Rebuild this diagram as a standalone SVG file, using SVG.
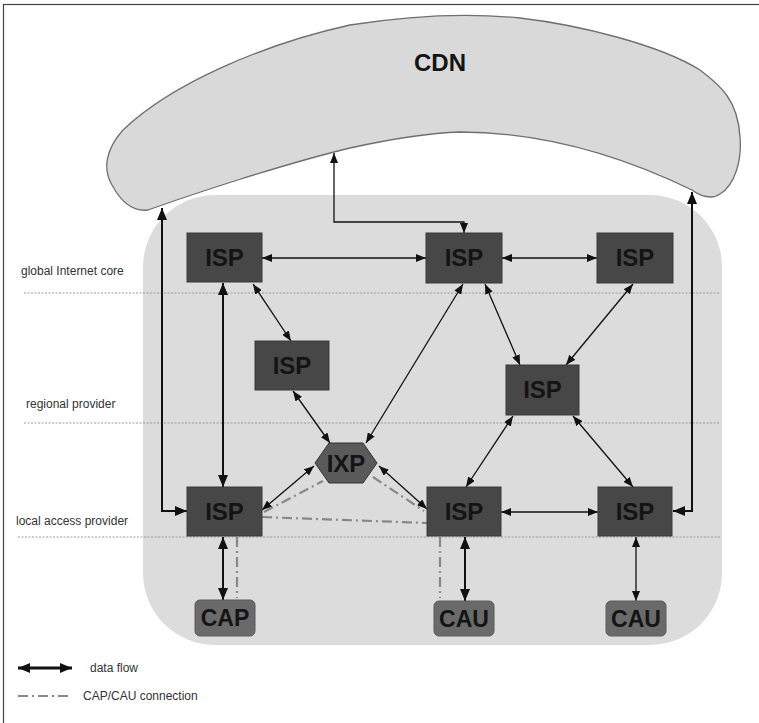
<svg xmlns="http://www.w3.org/2000/svg" width="759" height="723" viewBox="0 0 759 723">
<style>
.isp{fill:#474747;stroke:#3a3a3a;stroke-width:1}
.cap{fill:#6a6a6a;stroke:#5a5a5a;stroke-width:1}
.nt{font-family:"Liberation Sans",Arial,sans-serif;font-weight:bold;font-size:24px;fill:#141414;text-anchor:middle}
.ct{font-family:"Liberation Sans",Arial,sans-serif;font-weight:bold;font-size:23px;fill:#141414;text-anchor:middle}
.lbl{font-family:"Liberation Sans",Arial,sans-serif;font-size:12px;fill:#333}
.layer{stroke:#9a9a9a;stroke-width:1;stroke-dasharray:2,1.5;fill:none}
.df{stroke:#111;stroke-width:1.3;fill:none;marker-start:url(#ah);marker-end:url(#ah)}
.dfb{stroke:#111;stroke-width:2;fill:none;marker-start:url(#ahb);marker-end:url(#ahb)}
.cc{stroke:#888;stroke-width:2.2;fill:none;stroke-dasharray:10,4,2,4}
</style>
<defs>
<marker id="ah" markerUnits="userSpaceOnUse" viewBox="0 0 10 8" markerWidth="10" markerHeight="8" refX="10" refY="4" orient="auto-start-reverse">
<path d="M0,0 L10,4 L0,8 Z" fill="#111"/>
</marker>
<marker id="ahb" markerUnits="userSpaceOnUse" viewBox="0 0 12 10" markerWidth="12" markerHeight="10" refX="12" refY="5" orient="auto-start-reverse">
<path d="M0,0 L12,5 L0,10 Z" fill="#111"/>
</marker>
</defs>
<rect x="0" y="0" width="759" height="723" fill="#fff"/>
<rect x="3.5" y="4.5" width="760" height="725" fill="none" stroke="#444" stroke-width="1.2"/>

<g id="provider-area">
<rect x="143" y="195" width="579" height="450" rx="72" ry="72" fill="#dcdcdc"/>
</g>

<g id="layers">
<line class="layer" x1="24" y1="293" x2="720" y2="293"/>
<line class="layer" x1="24" y1="423" x2="720" y2="423"/>
<line class="layer" x1="18" y1="537" x2="720" y2="537"/>
<text class="lbl" x="21" y="275">global Internet core</text>
<text class="lbl" x="26" y="408">regional provider</text>
<text class="lbl" x="16" y="525">local access provider</text>
</g>

<g id="cdn">
<path d="M148,210 C190,195 280,165 350,148 C400,137 430,133 460,132 C540,132 620,155 692,190 C700,196 712,200 720,194 C735,185 742,160 740,137 C738,100 720,85 700,70 C660,45 580,25 520,18 C480,14 420,14 350,25 C260,45 170,85 123,130 C105,150 103,170 112,185 C120,200 132,212 148,210 Z" fill="#d9d9d9" stroke="#6f6f6f" stroke-width="1.3"/>
<text class="nt" x="440" y="71">CDN</text>
</g>

<g id="connectors">
<path class="dfb" d="M162,208 V511 H187"/>
<path class="df" d="M334,153 V222 H464 V233"/>
<path class="dfb" d="M692,192 V511 H673"/>
<line class="df" x1="262" y1="258" x2="426" y2="258"/>
<line class="df" x1="502" y1="258" x2="597" y2="258"/>
<line class="dfb" x1="223" y1="283" x2="223" y2="487"/>
<line class="df" x1="253" y1="284" x2="291" y2="341"/>
<line class="df" x1="293" y1="391" x2="330" y2="443"/>
<line class="df" x1="463" y1="284" x2="366" y2="443"/>
<line class="df" x1="485" y1="284" x2="520" y2="365"/>
<line class="df" x1="633" y1="284" x2="566" y2="365"/>
<line class="df" x1="513" y1="416" x2="466" y2="487"/>
<line class="df" x1="573" y1="416" x2="633" y2="487"/>
<line class="df" x1="314" y1="466" x2="262" y2="510"/>
<line class="df" x1="379" y1="466" x2="427" y2="509"/>
<line class="df" x1="501" y1="512" x2="598" y2="512"/>
<line class="dfb" x1="223" y1="537" x2="223" y2="600"/>
<line class="dfb" x1="465" y1="537" x2="465" y2="601"/>
<line class="df" x1="636" y1="537" x2="636" y2="601"/>
<line class="cc" x1="264" y1="512" x2="323" y2="481"/>
<line class="cc" x1="373" y1="477" x2="424" y2="511"/>
<line class="cc" x1="262" y1="517" x2="427" y2="523"/>
<line class="cc" x1="237" y1="537" x2="237" y2="598"/>
<line class="cc" x1="440" y1="537" x2="440" y2="598"/>
</g>

<g id="isp-global-left"><rect class="isp" x="187" y="233" width="75" height="49"/><text class="nt" x="224.5" y="266">ISP</text></g>
<g id="isp-global-mid"><rect class="isp" x="426" y="233" width="76" height="50"/><text class="nt" x="464" y="266">ISP</text></g>
<g id="isp-global-right"><rect class="isp" x="597" y="233" width="76" height="50"/><text class="nt" x="635" y="266">ISP</text></g>
<g id="isp-regional-left"><rect class="isp" x="255" y="341" width="74" height="49"/><text class="nt" x="292" y="374">ISP</text></g>
<g id="isp-regional-right"><rect class="isp" x="506" y="365" width="73" height="50"/><text class="nt" x="542.5" y="398">ISP</text></g>
<g id="ixp"><polygon points="315,463 329,443 363,443 377,463 363,483 329,483" fill="#5a5a5a" stroke="#333" stroke-width="1"/><text class="nt" x="346" y="472">IXP</text></g>
<g id="isp-local-left"><rect class="isp" x="187" y="487" width="75" height="49"/><text class="nt" x="224.5" y="520">ISP</text></g>
<g id="isp-local-mid"><rect class="isp" x="427" y="487" width="74" height="49"/><text class="nt" x="464" y="520">ISP</text></g>
<g id="isp-local-right"><rect class="isp" x="598" y="487" width="74" height="49"/><text class="nt" x="635" y="520">ISP</text></g>
<g id="cap"><rect class="cap" x="195" y="600" width="60" height="36" rx="5"/><text class="ct" x="225" y="626">CAP</text></g>
<g id="cau-mid"><rect class="cap" x="434" y="601" width="60" height="35" rx="5"/><text class="ct" x="464" y="627">CAU</text></g>
<g id="cau-right"><rect class="cap" x="606" y="601" width="60" height="35" rx="5"/><text class="ct" x="636" y="627">CAU</text></g>

<g id="legend">
<line x1="18" y1="668" x2="72" y2="668" stroke="#111" stroke-width="3" marker-start="url(#ahb)" marker-end="url(#ahb)"/>
<text class="lbl" x="90" y="672">data flow</text>
<line class="cc" x1="18" y1="696" x2="68" y2="696" stroke-width="1.3"/>
<text class="lbl" x="83" y="700">CAP/CAU connection</text>
</g>
</svg>
